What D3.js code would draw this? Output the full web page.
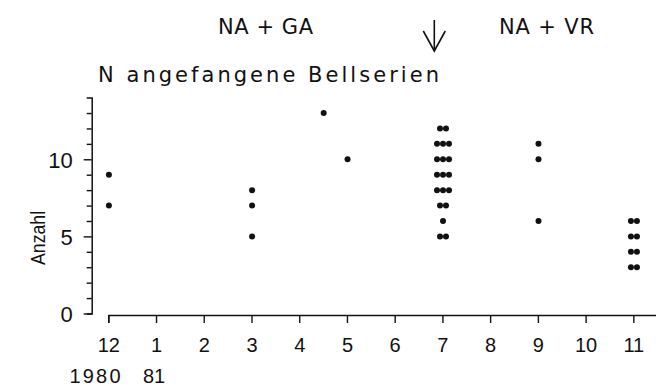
<!DOCTYPE html>
<html>
<head>
<meta charset="utf-8">
<script src="https://cdn.jsdelivr.net/npm/d3@7"></script>
<style>
  html, body { margin: 0; padding: 0; background: #fff; }
  svg { display: block; }
  text { font-family: "Liberation Sans", Arial, sans-serif; fill: #111; }
  text.ann { font-family: "DejaVu Sans", "Liberation Sans", sans-serif; }
</style>
</head>
<body>
<script>
// ---- data ----
const monthLabels = ["12", "1", "2", "3", "4", "5", "6", "7", "8", "9", "10", "11"];
const yearLabels = ["1980", "81"];
const yTickValues = [0, 1, 2, 3, 4, 5, 6, 7, 8, 9, 10, 11, 12, 13];
const yLabelValues = [0, 5, 10];
// month position (index into monthLabels), value, and number of observations at that value
const pointMonth = [0, 0, 3, 3, 3, 4.5, 5, 7, 7, 7, 7, 7, 7, 7, 7, 9, 9, 9, 11, 11, 11, 11];
const pointValue = [9, 7, 8, 7, 5, 13, 10, 12, 11, 10, 9, 8, 7, 6, 5, 11, 10, 6, 6, 5, 4, 3];
const pointCount = [1, 1, 1, 1, 1, 1, 1, 2, 3, 3, 3, 3, 2, 1, 2, 1, 1, 1, 2, 2, 2, 2];
const titleText = "N angefangene Bellserien";
const leftPhase = "NA + GA";
const rightPhase = "NA + VR";
const changeMonth = 6.83;
const yAxisTitle = "Anzahl";

// ---- layout ----
const W = 656, H = 386;
const svg = d3.select("body").append("svg").attr("width", W).attr("height", H);

const x = d3.scaleLinear().domain([0, 11.5]).range([108.3, 657.2]);
const y = d3.scaleLinear().domain([0, 14]).range([313.5, 97.6]);

const ink = "#111";

// y axis
const yAxis = d3.axisLeft(y)
  .tickValues(yTickValues)
  .tickSizeOuter(0)
  .tickSize(5)
  .tickFormat(() => "");
const gy = svg.append("g").attr("transform", "translate(91.7,0)").call(yAxis);
gy.select(".domain").attr("stroke", ink).attr("stroke-width", 1.5);
gy.selectAll(".tick line").attr("stroke", ink).attr("stroke-width", 1.4)
  .attr("x2", d => (yLabelValues.includes(d) ? -8 : -5));
gy.selectAll(".tick")
  .filter(d => yLabelValues.includes(d))
  .append("text")
  .attr("x", -19)
  .attr("dy", "0.36em")
  .attr("text-anchor", "end")
  .style("font-size", "22px")
  .text(d => d);

// x axis
const xAxis = d3.axisBottom(x)
  .tickValues(d3.range(monthLabels.length))
  .tickSizeOuter(0)
  .tickSize(8)
  .tickFormat(() => "");
const gx = svg.append("g").attr("transform", "translate(0,315)").call(xAxis);
gx.select(".domain").attr("stroke", ink).attr("stroke-width", 1.5);
gx.selectAll(".tick line").attr("stroke", ink).attr("stroke-width", 1.4);
gx.selectAll(".tick").append("text")
  .attr("y", 37)
  .attr("text-anchor", "middle")
  .style("font-size", "20px")
  .text(d => monthLabels[d]);

// year labels
svg.append("text").attr("x", 69.5).attr("y", 383)
  .style("font-size", "20px")
  .attr("textLength", 51).attr("lengthAdjust", "spacing")
  .text(yearLabels[0]);
svg.append("text").attr("x", x(1) - 2).attr("y", 383).attr("text-anchor", "middle")
  .style("font-size", "20px").text(yearLabels[1]);

// y axis title
svg.append("text")
  .attr("transform", `translate(45,${y(4.9)}) rotate(-90)`)
  .attr("text-anchor", "middle")
  .style("font-size", "20px")
  .attr("textLength", 54).attr("lengthAdjust", "spacingAndGlyphs")
  .text(yAxisTitle);

// points: expand each (month, value, count) into individual dots spaced horizontally
const dotGap = 6;
const dots = [];
pointMonth.forEach((m, i) => {
  const n = pointCount[i];
  for (let k = 0; k < n; k++) {
    dots.push({ m, v: pointValue[i], off: (k - (n - 1) / 2) * dotGap });
  }
});
svg.append("g").selectAll("circle").data(dots).join("circle")
  .attr("cx", d => x(d.m) + d.off + 0.6)
  .attr("cy", d => y(d.v))
  .attr("r", 3)
  .attr("fill", ink);

// annotations
svg.append("text").attr("class", "ann").attr("x", 218).attr("y", 34)
  .style("font-size", "21px")
  .attr("textLength", 95).attr("lengthAdjust", "spacing")
  .text(leftPhase);
svg.append("text").attr("class", "ann").attr("x", 499).attr("y", 34)
  .style("font-size", "21px")
  .attr("textLength", 95).attr("lengthAdjust", "spacing")
  .text(rightPhase);
svg.append("text").attr("class", "ann").attr("x", 98).attr("y", 82)
  .style("font-size", "21px")
  .attr("textLength", 341).attr("lengthAdjust", "spacing")
  .text(titleText);

// arrow marking the change
const ax = x(changeMonth);
const arrow = svg.append("g").attr("stroke", ink).attr("stroke-width", 1.6).attr("fill", "none");
arrow.append("line").attr("x1", ax).attr("x2", ax).attr("y1", 20).attr("y2", 51);
arrow.append("polyline").attr("points", `${ax - 11},31 ${ax},51 ${ax + 11},31`);
</script>
</body>
</html>
